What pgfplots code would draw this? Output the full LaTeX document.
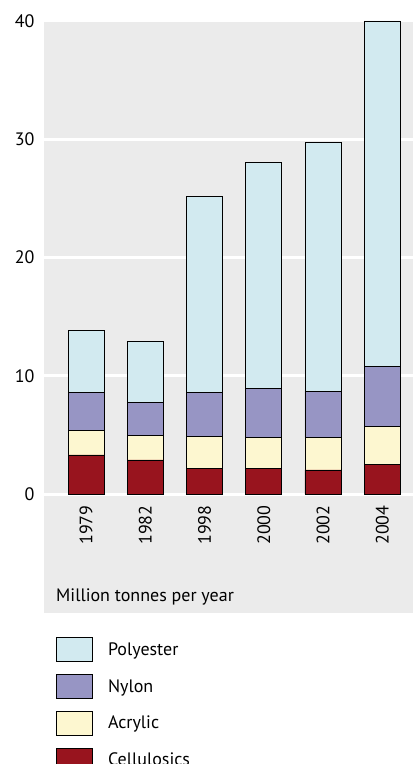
\documentclass[border=0pt]{standalone}
\usepackage{fontspec}
\setmainfont{PT Sans}
\usepackage{pgfplots}
\pgfplotsset{compat=1.18}
\usetikzlibrary{backgrounds}
\definecolor{bg}{RGB}{235,235,235}
\definecolor{poly}{RGB}{210,234,240}
\definecolor{nylon}{RGB}{151,149,196}
\definecolor{acry}{RGB}{253,247,208}
\definecolor{cell}{RGB}{152,20,30}
\newcommand{\fs}{\fontsize{18}{18}\selectfont}
\pgfplotsset{mylegend/.style={legend image code/.code={\draw[##1,draw=black,line width=0.8pt] (0pt,-12pt) rectangle (36pt,12pt);}}}
\begin{document}
\begin{tikzpicture}
\begin{axis}[
  scale only axis, width=369pt, height=473pt,
  ybar stacked, bar width=36pt,
  xmin=-0.71, xmax=5.52, ymin=0, ymax=40,
  xtick={0,...,5}, xticklabels={1979,1982,1998,2000,2002,2004},
  ytick={0,10,20,30,40},
  axis background/.style={fill=bg},
  axis line style={draw=none},
  major tick length=0pt,
  ymajorgrids, grid style={white, line width=3pt},
  /pgf/number format/assume math mode=true,
  y tick label style={font=\fs},
  yticklabel shift=6pt,
  x tick label style={rotate=90, anchor=east, font=\fs},
  xticklabel shift=8pt,
  clip=false,
  reverse legend,
  legend cell align=left,
  legend style={at={(rel axis cs:0,0)}, anchor=north west, xshift=12pt, yshift=-143pt,
    draw=none, fill=none, inner sep=0pt, row sep=12pt, column sep=15pt,
    nodes={inner sep=0pt, font=\fs}},
]
\addplot[fill=cell, draw=black, line width=0.8pt, mylegend] coordinates {(0,3.30) (1,2.88) (2,2.17) (3,2.14) (4,2.03) (5,2.48)};
\addplot[fill=acry, draw=black, line width=0.8pt, mylegend] coordinates {(0,2.05) (1,2.05) (2,2.68) (3,2.68) (4,2.76) (5,3.24)};
\addplot[fill=nylon, draw=black, line width=0.8pt, mylegend] coordinates {(0,3.25) (1,2.85) (2,3.75) (3,4.08) (4,3.89) (5,5.05)};
\addplot[fill=poly, draw=black, line width=0.8pt, mylegend] coordinates {(0,5.20) (1,5.12) (2,16.60) (3,19.10) (4,21.02) (5,29.23)};
\legend{Cellulosics,Acrylic,Nylon,Polyester}
\node[anchor=base west, font=\fs, inner sep=0pt] at ([xshift=12pt,yshift=-107pt]rel axis cs:0,0) {Million tonnes per year};
\coordinate (LL) at (rel axis cs:0,0);
\coordinate (UR) at (rel axis cs:1,1);
\coordinate (LR) at (rel axis cs:1,0);
\end{axis}
\begin{pgfonlayer}{background}
\fill[bg] (LL) rectangle ([yshift=-119pt]LR);
\end{pgfonlayer}
\pgfresetboundingbox
\path ([xshift=-44pt,yshift=-270pt]LL) rectangle ([yshift=21pt]UR);
\end{tikzpicture}
\end{document}
